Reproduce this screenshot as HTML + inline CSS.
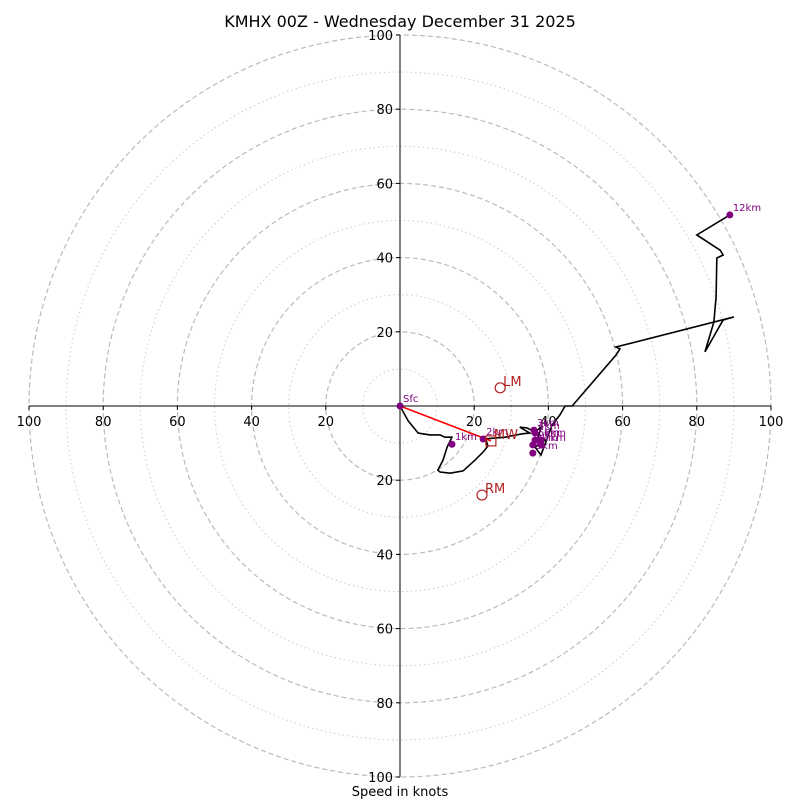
<!DOCTYPE html>
<html><head><meta charset="utf-8"><style>
body{margin:0;background:#fff}
svg{display:block;font-family:"DejaVu Sans","Liberation Sans",sans-serif}
</style></head><body>
<svg id="chart" width="800" height="800">
<rect width="800" height="800" fill="#fff"/>
<text x="400" y="27" text-anchor="middle" font-size="16">KMHX 00Z - Wednesday December 31 2025</text>
<text x="400" y="796" text-anchor="middle" font-size="13">Speed in knots</text>
<g id="rings"></g><g id="axes"></g><g id="trace"></g><g id="marks"></g>
</svg>
<script>
const ringValues=[10,20,30,40,50,60,70,80,90,100];
const tickValues=[20,40,60,80,100];
const traceU=[0,2.2,4.9,8.1,10.8,12.1,14.0,12.7,11.6,10.2,10.8,13.5,17.0,20.2,22.4,23.7,23.2,22.4,28.3,32.9,35.0,32.3,34.2,36.4,38.0,37.2,39.1,36.4,38.0,38.5,39.9,41.0,43.1,44.5,46.4,58.2,59.3,58.2,90.0,87.1,82.2,84.6,85.2,85.4,87.1,86.3,80.0,88.9];
const traceV=[0,-4.0,-7.3,-7.8,-7.8,-8.4,-8.4,-11.1,-14.6,-17.3,-17.8,-18.1,-17.5,-14.6,-12.4,-10.8,-9.2,-8.9,-8.4,-7.5,-7.3,-5.7,-5.9,-7.0,-5.7,-8.6,-9.2,-11.1,-13.2,-11.9,-8.1,-5.1,-2.4,0,0,13.7,15.4,15.9,24.0,23.2,14.6,22.6,29.4,39.9,40.7,42.0,46.1,51.5];
const markLabels=["Sfc","1km","2km","3km","4km","5km","6km","7km","8km","9km","12km"];
const markU=[0,14.0,22.4,36.1,36.4,36.4,38.0,38.0,35.8,35.8,88.9];
const markV=[0,-10.3,-8.9,-6.5,-7.3,-9.2,-9.2,-10.5,-10.5,-12.7,51.5];
const motionLabels=["LM","RM"];
const motionU=[27.0,22.1];
const motionV=[4.9,-24.0];
const meanWindU=24.5, meanWindV=-9.4;

const cx=400,cy=406,k=3.71;
const X=u=>cx+u*k, Y=v=>cy-v*k;
const NS="http://www.w3.org/2000/svg";
function mk(tag,attrs,parent){const e=document.createElementNS(NS,tag);for(const a in attrs)e.setAttribute(a,attrs[a]);document.getElementById(parent).appendChild(e);return e;}
ringValues.forEach(r=>{
 const c=mk('circle',{cx:cx,cy:cy,r:r*k,fill:'none',stroke:r%20===0?'#bbb':'#ccc','stroke-width':r%20===0?1.2:1,'stroke-dasharray':r%20===0?'5,3':'1.5,3'},'rings');
 
 
});
let l=mk('line',{x1:X(-100),y1:cy,x2:X(100),y2:cy,stroke:'#000','stroke-width':1},'axes');


l=mk('line',{x1:cx,y1:Y(100),x2:cx,y2:Y(-100),stroke:'#000','stroke-width':1},'axes');


tickValues.forEach(t=>{
 [t,-t].forEach(s=>{
  mk('line',{x1:X(s),y1:cy,x2:X(s),y2:cy+4,stroke:'#000'},'axes');
  let tx=mk('text',{x:X(s),y:cy+20,'text-anchor':'middle','font-size':13},'axes');tx.textContent=t;
  
  
  mk('line',{x1:cx-4,y1:Y(s),x2:cx,y2:Y(s),stroke:'#000'},'axes');
  let ty=mk('text',{x:cx-7,y:Y(s)+5,'text-anchor':'end','font-size':13},'axes');ty.textContent=t;
  
  
 });
});
const pts=traceU.map((u,i)=>X(u)+','+Y(traceV[i])).join(' ');
const pl=mk('polyline',{points:pts,fill:'none',stroke:'#000','stroke-width':1.6},'trace');


const rl=mk('line',{x1:X(0),y1:Y(0),x2:X(meanWindU),y2:Y(meanWindV),stroke:'red','stroke-width':1.6},'trace');


markLabels.forEach((lab,i)=>{
 const d=mk('circle',{cx:X(markU[i]),cy:Y(markV[i]),r:3.5,fill:'purple'},'marks');
 
 
 const t=mk('text',{x:X(markU[i])+3,y:Y(markV[i])-4,'font-size':10,fill:'purple'},'marks');t.textContent=lab;
 
 
});
motionLabels.forEach((lab,i)=>{
 const c=mk('circle',{cx:X(motionU[i]),cy:Y(motionV[i]),r:5,fill:'none',stroke:'#b22222','stroke-width':1.2},'marks');
 
 
 const t=mk('text',{x:X(motionU[i])+3,y:Y(motionV[i])-2,'font-size':13,fill:'#b22222'},'marks');t.textContent=lab;
 
 
});
const sq=mk('rect',{x:X(meanWindU)-5,y:Y(meanWindV)-5,width:10,height:10,fill:'none',stroke:'#b22222','stroke-width':1.2},'marks');


const mw=mk('text',{x:X(meanWindU)+3,y:Y(meanWindV)-2,'font-size':13,fill:'#b22222'},'marks');mw.textContent='MW';


</script>
</body></html>
